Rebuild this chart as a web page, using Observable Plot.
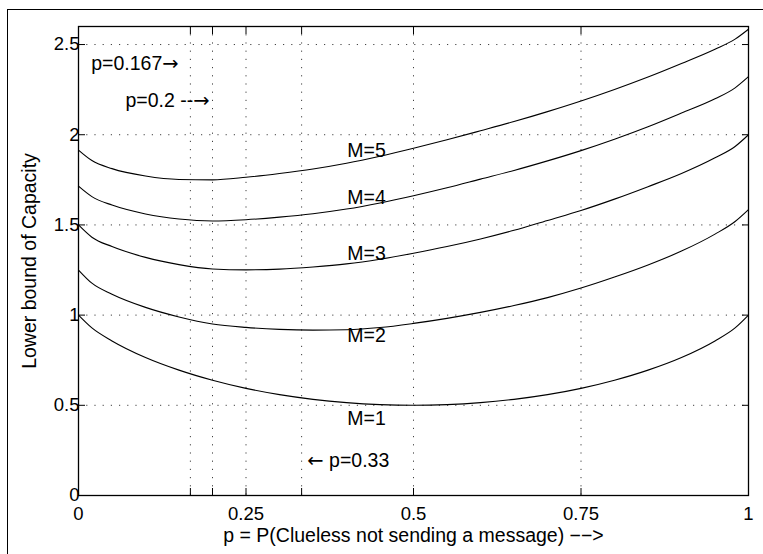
<!DOCTYPE html>
<html><head><meta charset="utf-8">
<script src="https://cdn.jsdelivr.net/npm/d3@7"></script>
<script src="https://cdn.jsdelivr.net/npm/@observablehq/plot@0.6"></script>
<style>
html,body{margin:0;padding:0;background:#fff;overflow:hidden;}
#wrap{position:relative;width:763px;height:554px;overflow:hidden;background:#fff;}
#frame{position:absolute;left:7px;top:9px;width:800px;height:600px;border-left:1.5px solid #000;border-top:1.5px solid #000;box-sizing:border-box;}
#chart{position:absolute;left:0;top:0;}
</style></head><body>
<div id="wrap"><div id="frame"></div><div id="chart"></div></div>
<script>
// p = P(Clueless not sending a message)
const pValues = [0, 0.02, 0.05, 0.1, 0.15, 0.2, 0.25, 0.3, 0.35, 0.4, 0.45, 0.5, 0.55, 0.6, 0.65, 0.7, 0.75, 0.8, 0.85, 0.9, 0.95, 0.98, 1];
// Lower bound of capacity, one array per M
const capM1 = [1.0, 0.929, 0.857, 0.765, 0.695, 0.639, 0.594, 0.559, 0.533, 0.515, 0.504, 0.5, 0.504, 0.515, 0.533, 0.559, 0.594, 0.639, 0.695, 0.765, 0.857, 0.929, 1.0];
const capM2 = [1.25, 1.177, 1.116, 1.043, 0.99, 0.951, 0.932, 0.921, 0.917, 0.919, 0.931, 0.954, 0.982, 1.015, 1.053, 1.097, 1.150, 1.211, 1.278, 1.355, 1.449, 1.519, 1.585];
const capM3 = [1.5, 1.432, 1.38, 1.32, 1.28, 1.256, 1.251, 1.255, 1.267, 1.284, 1.31, 1.343, 1.38, 1.422, 1.47, 1.525, 1.58, 1.643, 1.712, 1.785, 1.872, 1.935, 2.0];
const capM4 = [1.715, 1.657, 1.61, 1.561, 1.533, 1.522, 1.529, 1.543, 1.562, 1.588, 1.622, 1.662, 1.706, 1.754, 1.802, 1.855, 1.912, 1.975, 2.044, 2.12, 2.199, 2.26, 2.322];
const capM5 = [1.915, 1.857, 1.812, 1.771, 1.752, 1.75, 1.764, 1.785, 1.81, 1.842, 1.881, 1.925, 1.972, 2.022, 2.073, 2.128, 2.187, 2.251, 2.32, 2.395, 2.474, 2.53, 2.585];
const seriesNames = ["M=1", "M=2", "M=3", "M=4", "M=5"];

const xTickValues = [0, 0.167, 0.2, 0.25, 0.333, 0.5, 0.75, 1];
const xTickLabels = [0, 0.25, 0.5, 0.75, 1];
const yTickValues = [0, 0.5, 1, 1.5, 2, 2.5];
const xGridValues = [0.167, 0.2, 0.25, 0.333, 0.5, 0.75];
const yGridValues = [0.5, 1, 1.5, 2, 2.5];

// curve labels (placed at data coordinates)
const curveLabelP = [0.43, 0.43, 0.43, 0.43, 0.43];
const curveLabelC = [0.423, 0.885, 1.341, 1.651, 1.910];
// free annotations
const noteText = ["p=0.167\u2192", "p=0.2 --\u2192", "\u2190 p=0.33"];
const noteP = [0.019, 0.070, 0.3415];
const noteC = [2.392, 2.186, 0.1925];

const rows = [];
[capM1, capM2, capM3, capM4, capM5].forEach((arr, i) => {
  arr.forEach((c, j) => rows.push({M: seriesNames[i], p: pValues[j], c}));
});
const labelRows = seriesNames.map((s, i) => ({s, p: curveLabelP[i], c: curveLabelC[i]}));
const noteRows = noteText.map((t, i) => ({t, p: noteP[i], c: noteC[i]}));

const font = "'Liberation Sans', Arial, Helvetica, sans-serif";
const fs = 19.5;
const tfs = 18.5;

const chart = Plot.plot({
  width: 763,
  height: 554,
  marginLeft: 78,
  marginRight: 15,
  marginTop: 26,
  marginBottom: 59,
  style: {fontFamily: font, fontSize: fs + "px", background: "transparent", color: "#000"},
  x: {domain: [0, 1]},
  y: {domain: [0, 2.6]},
  marks: [
    Plot.gridX(xGridValues, {stroke: "#000", strokeOpacity: 0.75, strokeDasharray: "1.2,7", strokeWidth: 1}),
    Plot.gridY(yGridValues, {stroke: "#000", strokeOpacity: 0.75, strokeDasharray: "1.2,7", strokeWidth: 1}),
    Plot.line(rows, {x: "p", y: "c", z: "M", stroke: "#000", strokeWidth: 1.1, curve: "monotone-x"}),
    Plot.text(labelRows, {x: "p", y: "c", text: "s", fontSize: fs, textAnchor: "middle", fill: "#000"}),
    Plot.text(noteRows, {x: "p", y: "c", text: "t", fontSize: fs, textAnchor: "start", fill: "#000"}),
    Plot.axisX(xTickValues, {anchor: "bottom", tickSize: -7, tickFormat: () => "", label: null}),
    Plot.axisX(xTickValues, {anchor: "top", tickSize: -7, tickFormat: () => "", label: null}),
    Plot.axisX(xTickLabels, {anchor: "bottom", tickSize: 0, tickPadding: 11, tickFormat: d => String(d), fontSize: tfs, label: null}),
    Plot.axisY(yTickValues, {anchor: "left", tickSize: -7, tickPadding: 6, tickFormat: d => String(d), fontSize: tfs, label: null}),
    Plot.axisY(yTickValues, {anchor: "right", tickSize: -7, tickFormat: () => "", label: null}),
    Plot.text(["p = P(Clueless not sending a message) \u2212\u2212>"], {frameAnchor: "bottom", lineAnchor: "top", dy: 33, fontSize: fs, textAnchor: "middle"}),
    Plot.text(["Lower bound of Capacity"], {frameAnchor: "left", dx: -49, rotate: -90, fontSize: fs, textAnchor: "middle"}),
    Plot.frame({stroke: "#000", strokeWidth: 1.3})
  ]
});
document.getElementById("chart").appendChild(chart);

// render arrow glyphs with a font that has full-size arrows
chart.querySelectorAll("text").forEach(t => {
  const s = t.textContent;
  if (!/[\u2190\u2192]/.test(s) || t.children.length > 0) return;
  t.textContent = "";
  s.split(/([\u2190\u2192])/).forEach(part => {
    if (!part) return;
    const ts = document.createElementNS("http://www.w3.org/2000/svg", "tspan");
    ts.textContent = part;
    if (/[\u2190\u2192]/.test(part)) ts.setAttribute("font-family", "'DejaVu Sans'");
    t.appendChild(ts);
  });
});
</script>
</body></html>
